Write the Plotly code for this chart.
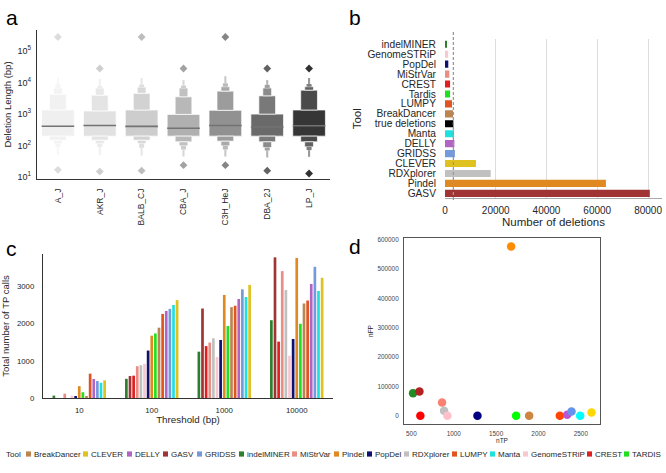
import colorsys
import plotly.graph_objects as go

# ---------------- data ----------------
# panel a: deletion length per strain (bp), letter-value levels
strains = ["A_J", "AKR_J", "BALB_CJ", "CBA_J", "C3H_HeJ", "DBA_2J", "LP_J"]
medians = [410, 437, 407, 355, 437, 390, 427]
lv1_lo = [200, 200, 200, 200, 200, 200, 200]
lv1_hi = [1350, 1260, 1350, 980, 1320, 1000, 1350]
lv2_lo = [148, 148, 148, 132, 138, 132, 132]
lv2_hi = [4270, 3980, 4570, 3550, 5370, 3800, 5750]
lv3_lo = [117, 115, 117, 98, 98, 87, 91]
lv3_hi = [6760, 6760, 7240, 6760, 7410, 6760, 7410]
lv4_lo = [91, 90, 85, 75, 75, 70, 72]
lv4_hi = [8900, 7760, 8700, 8000, 9500, 8500, 9000]
lv5_lo = [50, 50, 48, 45, 45, 42, 44]
lv5_hi = [14000, 13000, 14000, 12000, 16000, 12000, 14000]
out_lo = [17, 15, 16, 24, 24, 16, 13]
out_hi = [280000, 28000, 280000, 28000, 280000, 28000, 28000]

# panel b: number of deletions per tool
tools_b = ["indelMINER", "GenomeSTRiP", "PopDel", "MiStrVar", "CREST", "Tardis", "LUMPY",
           "BreakDancer", "true deletions", "Manta", "DELLY", "GRIDSS", "CLEVER",
           "RDXplorer", "Pindel", "GASV"]
n_deletions = [600, 1250, 1300, 1700, 2000, 2000, 2750, 3150, 3300, 3550, 3700, 3900,
               12200, 18000, 63400, 80700]
true_deletions = 3300

# panel c: total TP calls per threshold
thresholds = ["10", "100", "1000", "10000"]
tools_c = ["indelMINER", "GASV", "CREST", "MiStrVar", "RDXplorer", "GenomeSTRiP", "PopDel",
           "Pindel", "TARDIS", "BreakDancer", "LUMPY", "DELLY", "GRIDSS", "Manta", "CLEVER"]
tp_indelMINER = [64, 515, 1245, 2090]
tp_GASV = [0, 590, 2405, 3780]
tp_CREST = [0, 600, 1395, 1515]
tp_MiStrVar = [118, 855, 1490, 3410]
tp_RDXplorer = [0, 880, 1605, 2900]
tp_GenomeSTRiP = [64, 918, 1100, 1136]
tp_PopDel = [45, 1275, 1560, 1585]
tp_Pindel = [318, 1675, 2770, 3765]
tp_TARDIS = [155, 1735, 1935, 1995]
tp_BreakDancer = [36, 1890, 2440, 2540]
tp_LUMPY = [655, 2260, 2480, 2620]
tp_DELLY = [510, 2340, 2660, 3065]
tp_GRIDSS = [455, 2395, 2920, 3525]
tp_Manta = [410, 2500, 2715, 2875]
tp_CLEVER = [473, 2630, 3040, 3230]
tp_table = [tp_indelMINER, tp_GASV, tp_CREST, tp_MiStrVar, tp_RDXplorer, tp_GenomeSTRiP,
            tp_PopDel, tp_Pindel, tp_TARDIS, tp_BreakDancer, tp_LUMPY, tp_DELLY, tp_GRIDSS,
            tp_Manta, tp_CLEVER]

# panel d: nTP vs nFP (same tool order as panel c)
nTP = [520, 595, 606, 862, 886, 925, 1280, 1677, 1736, 1890, 2252, 2339, 2390, 2492, 2626]
nFP = [77000, 82600, 0, 45000, 17000, 0, 0, 577000, 0, 0, 0, 3400, 14700, 0, 11000]

# legend order
legend_tools = ["BreakDancer", "CLEVER", "DELLY", "GASV", "GRIDSS", "indelMINER", "MiStrVar",
                "Pindel", "PopDel", "RDXplorer", "LUMPY", "Manta", "GenomeSTRiP", "CREST", "TARDIS"]

# ---------------- styles ----------------
tool_color = {
    "indelMINER": "#228b22", "GASV": "#b22222", "CREST": "#ff0000", "MiStrVar": "#fa8072",
    "RDXplorer": "#c0c0c0", "GenomeSTRiP": "#ffc0cb", "PopDel": "#000080", "Pindel": "#ff8c00",
    "TARDIS": "#00ff00", "Tardis": "#00ff00", "BreakDancer": "#cd853f", "LUMPY": "#ff4500",
    "DELLY": "#ba55d3", "GRIDSS": "#6495ed", "Manta": "#00ffff", "CLEVER": "#ffd700",
    "true deletions": "#000000",
}
strain_colors = ["#efefef", "#e1e1e1", "#cdcdcd", "#b0b0b0", "#919191", "#6a6a6a", "#363636"]

FONT = "Liberation Sans, Arial, Helvetica, sans-serif"
TXT = "#262626"
W, H = 666, 473


def hex2rgb(c):
    return [int(c[i:i + 2], 16) for i in (1, 3, 5)]


def rgb2hex(r, g, b):
    return "#%02x%02x%02x" % (int(round(r)), int(round(g)), int(round(b)))


def desat(c, f=0.75):
    r, g, b = [v / 255 for v in hex2rgb(c)]
    h, l, s = colorsys.rgb_to_hls(r, g, b)
    r, g, b = colorsys.hls_to_rgb(h, l, s * f)
    return rgb2hex(r * 255, g * 255, b * 255)


def blend(c, f, to=(255, 255, 255)):
    rgb = hex2rgb(c)
    return rgb2hex(*[v + (t - v) * f for v, t in zip(rgb, to)])


def px(x):
    return x / W


def py(y):
    return 1 - y / H


fig = go.Figure()

# ---------------- panel a ----------------
xs = list(range(len(strains)))
lows = [lv1_lo, lv2_lo, lv3_lo, lv4_lo, lv5_lo]
highs = [lv1_hi, lv2_hi, lv3_hi, lv4_hi, lv5_hi]
widths = [0.78, 0.40, 0.21, 0.12, 0.05]
fades = [0.0, 0.10, 0.22, 0.36, 0.5]
for k in range(5):
    cols = [blend(c, fades[k]) for c in strain_colors]
    line = dict(color="white", width=0.7 if k < 3 else 0)
    if k == 0:
        fig.add_trace(go.Bar(x=xs, base=lows[0], y=[h - l for h, l in zip(highs[0], lows[0])],
                             width=widths[0], marker=dict(color=cols, line=line),
                             xaxis="x", yaxis="y", showlegend=False, hoverinfo="skip"))
    else:
        fig.add_trace(go.Bar(x=xs, base=highs[k - 1],
                             y=[h - p for h, p in zip(highs[k], highs[k - 1])],
                             width=widths[k], marker=dict(color=cols, line=line),
                             xaxis="x", yaxis="y", showlegend=False, hoverinfo="skip"))
        fig.add_trace(go.Bar(x=xs, base=lows[k],
                             y=[p - l for p, l in zip(lows[k - 1], lows[k])],
                             width=widths[k], marker=dict(color=cols, line=line),
                             xaxis="x", yaxis="y", showlegend=False, hoverinfo="skip"))

mx, my = [], []
for i, m in zip(xs, medians):
    mx += [i - widths[0] / 2, i + widths[0] / 2, None]
    my += [m, m, None]
fig.add_trace(go.Scatter(x=mx, y=my, mode="lines", line=dict(color="#737373", width=1.6),
                         xaxis="x", yaxis="y", showlegend=False, hoverinfo="skip"))
fig.add_trace(go.Scatter(x=xs + xs, y=out_hi + out_lo, mode="markers",
                         marker=dict(symbol="diamond", size=6,
                                     color=[blend(c, 0.08, (0, 0, 0)) for c in strain_colors] * 2),
                         xaxis="x", yaxis="y", showlegend=False, hoverinfo="skip"))

# ---------------- panel b ----------------
fig.add_trace(go.Bar(x=n_deletions, y=tools_b, orientation="h", width=0.72,
                     marker=dict(color=[desat(tool_color[t]) if t != "true deletions" else "#000000"
                                        for t in tools_b], line=dict(width=0)),
                     xaxis="x2", yaxis="y2", showlegend=False))

# ---------------- panel c ----------------
n = len(tools_c)
slot = 0.75 / n
bw = slot * 0.74
for i, (t, vals) in enumerate(zip(tools_c, tp_table)):
    fig.add_trace(go.Bar(x=thresholds, y=vals, width=bw, offset=-0.375 + i * slot + (slot - bw) / 2,
                         marker=dict(color=desat(tool_color[t]), line=dict(width=0)),
                         name=t, xaxis="x3", yaxis="y3", showlegend=False))

# ---------------- panel d ----------------
fig.add_trace(go.Scatter(x=nTP, y=nFP, mode="markers",
                         marker=dict(size=8.5, color=[tool_color[t] for t in tools_c]),
                         text=tools_c, xaxis="x4", yaxis="y4", showlegend=False))

# ---------------- axes ----------------
ax_common = dict(showgrid=False, zeroline=False, automargin=False,
                 tickfont=dict(family=FONT, color=TXT))
fig.update_layout(
    template="none",
    width=W, height=H, margin=dict(l=0, r=0, t=0, b=0, autoexpand=False),
    paper_bgcolor="white", plot_bgcolor="white", barmode="overlay",
    font=dict(family=FONT, color=TXT),
    xaxis=dict(**ax_common, domain=[px(37), px(330)], anchor="y", range=[-0.5, 6.5],
               tickmode="array", tickvals=xs, ticktext=strains, tickangle=-90,
               showline=True, linecolor="#333", linewidth=1.3, ticks="outside", ticklen=5,
               tickcolor="rgba(0,0,0,0)"),
    yaxis=dict(**ax_common, domain=[py(179), py(30)], anchor="x", type="log",
               range=[0.94, 5.67], tickmode="array", tickvals=[10, 100, 1000, 10000, 100000],
               ticktext=["10<sup>1</sup>", "10<sup>2</sup>", "10<sup>3</sup>",
                         "10<sup>4</sup>", "10<sup>5</sup>"],
               showline=True, linecolor="#333", linewidth=1.3, ticks="outside", ticklen=3,
               tickcolor="rgba(0,0,0,0)",
               title=dict(text="Deletion Length (bp)", font=dict(size=9.5), standoff=4)),
    xaxis2=dict(**ax_common, domain=[px(445), px(662)], anchor="y2", range=[0, 85500],
                tickmode="array", tickvals=[0, 20000, 40000, 60000, 80000], tickformat="d",
                showline=True, linecolor="#aaaaaa", linewidth=1, ticks="outside", ticklen=3,
                tickcolor="rgba(0,0,0,0)",
                title=dict(text="Number of deletions", font=dict(size=11.5), standoff=2)),
    yaxis2=dict(**ax_common, domain=[py(198.3), py(39.3)], anchor="x2",
                categoryorder="array", categoryarray=tools_b, autorange="reversed",
                tickmode="array", tickvals=tools_b,
                showline=False, ticks="outside", ticklen=6, tickcolor="rgba(0,0,0,0)",
                title=dict(text="Tool", font=dict(size=11.5), standoff=3)),
    xaxis3=dict(**ax_common, domain=[px(43), px(333)], anchor="y3", type="category",
                categoryorder="array", categoryarray=thresholds, range=[-0.5, 3.5],
                showline=True, linecolor="#333", linewidth=1.3, ticks="outside", ticklen=4,
                tickcolor="rgba(0,0,0,0)",
                title=dict(text="Threshold (bp)", font=dict(size=9.8), standoff=1)),
    yaxis3=dict(**ax_common, domain=[py(398), py(254)], anchor="x3", range=[0, 3870],
                tickmode="array", tickvals=[0, 1000, 2000, 3000], tickformat="d",
                showline=True, linecolor="#333", linewidth=1.3,
                ticks="outside", ticklen=6, tickcolor="rgba(0,0,0,0)",
                title=dict(text="Total number of TP calls", font=dict(size=9.5), standoff=5)),
    xaxis4=dict(**ax_common, domain=[px(404), px(600)], anchor="y4", range=[413, 2726],
                tickmode="array", tickvals=[500, 1000, 1500, 2000, 2500], tickformat="d",
                showline=True, mirror=True,
                linecolor="#555", linewidth=1, ticks="outside", ticklen=3,
                tickcolor="rgba(0,0,0,0)",
                title=dict(text="nTP", font=dict(size=6.5), standoff=1)),
    yaxis4=dict(**ax_common, domain=[py(424), py(238)], anchor="x4", range=[-28200, 605700],
                tickmode="array", tickvals=[0, 100000, 200000, 300000, 400000, 500000, 600000],
                tickformat="d", showline=True,
                mirror=True, linecolor="#555", linewidth=1, ticks="outside", ticklen=3,
                tickcolor="rgba(0,0,0,0)",
                title=dict(text="nFP", font=dict(size=6.5), standoff=3)),
)
fig.update_layout(
    xaxis=dict(tickfont=dict(size=8.5)), yaxis=dict(tickfont=dict(size=9)),
    xaxis2=dict(tickfont=dict(size=10), showgrid=True, gridcolor="#dcdcdc", gridwidth=1),
    yaxis2=dict(tickfont=dict(size=10.2)),
    xaxis3=dict(tickfont=dict(size=7.8)), yaxis3=dict(tickfont=dict(size=7.8)),
    xaxis4=dict(tickfont=dict(size=6.4, color="#444")), yaxis4=dict(tickfont=dict(size=6.4, color="#444")),
)

shapes = [dict(type="line", xref="x2", yref="paper", x0=true_deletions, x1=true_deletions,
               y0=py(200), y1=py(30), line=dict(color="#999999", width=1.3, dash="3px,2px"))]
annotations = []
for lab, (lx, ly) in zip("abcd", [(4, 18), (347, 18), (4, 248), (347, 246)]):
    annotations.append(dict(text=lab, x=px(lx), y=py(ly), xref="paper", yref="paper",
                            xanchor="left", yanchor="middle", showarrow=False,
                            font=dict(size=21, color="black", family=FONT)))

# manual one-row legend
LEG_Y = 454
annotations.append(dict(text="Tool", x=px(4), y=py(LEG_Y), xref="paper", yref="paper",
                        xanchor="left", yanchor="middle", showarrow=False,
                        font=dict(size=8, color=TXT, family=FONT)))
leg_x = [26, 83, 127, 163, 197, 239, 292, 334, 367, 404, 452, 490, 523, 587, 624]
for t, lx in zip(legend_tools, leg_x):
    shapes.append(dict(type="rect", xref="paper", yref="paper", x0=px(lx), x1=px(lx + 5),
                       y0=py(LEG_Y + 2.6), y1=py(LEG_Y - 2.6),
                       fillcolor=desat(tool_color[t]), line=dict(width=0)))
    annotations.append(dict(text=t, x=px(lx + 6), y=py(LEG_Y), xref="paper", yref="paper",
                            xanchor="left", yanchor="middle", showarrow=False,
                            font=dict(size=8, color=TXT, family=FONT)))

fig.update_layout(shapes=shapes, annotations=annotations)
fig.write_html("out.html", config={"displayModeBar": False},
               post_script="document.body.style.margin='0';document.body.style.padding='0';")
